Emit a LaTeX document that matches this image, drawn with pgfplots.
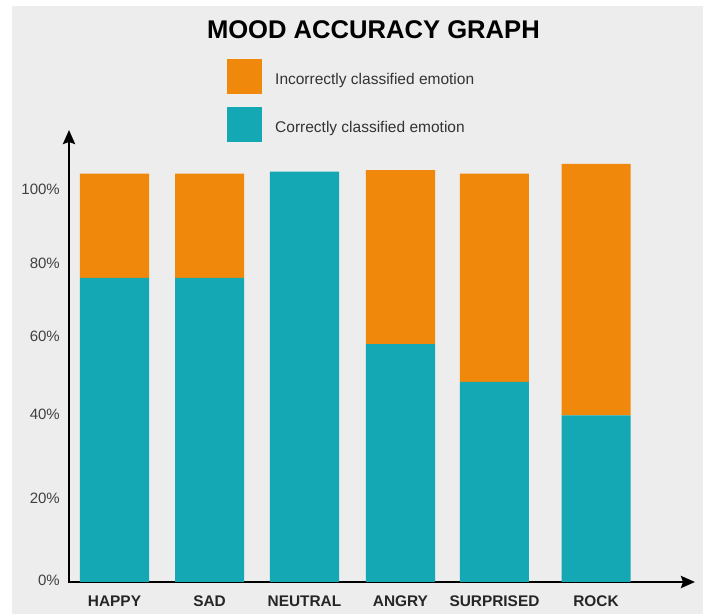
\documentclass[border=0pt]{standalone}
\usepackage{fontspec}
\setmainfont{Liberation Sans}
\usepackage{pgfplots}
\pgfplotsset{compat=1.18}
\usetikzlibrary{arrows.meta}
\definecolor{bgg}{HTML}{EDEDED}
\definecolor{tealc}{HTML}{14A8B4}
\definecolor{orangec}{HTML}{F0890B}

\begin{document}
\begin{tikzpicture}[x=1bp,y=1bp]
\fill[white] (0,0) rectangle (703,614);
\fill[bgg] (12,0) rectangle (703,608);
\begin{axis}[
  at={(69bp,32bp)}, anchor=south west, scale only axis,
  width=626bp, height=452bp,
  xmin=-0.474, xmax=6.047, ymin=0, ymax=115,
  axis lines=left,
  axis line style={draw=none},
  clip=false,
  ybar stacked, bar width=0.719,
  xtick={0,0.99,1.979,2.979,3.958,5.016},
  xticklabels={HAPPY,SAD,NEUTRAL,ANGRY,SURPRISED,ROCK},
  ytick={0.3,21.4,42.7,62.6,81.2,100},
  yticklabels={0\%,20\%,40\%,60\%,80\%,100\%},
  major tick length=0pt,
  tick style={draw=none},
  xticklabel style={font=\fontsize{15.4bp}{18bp}\selectfont\bfseries, text=black!85, inner sep=0pt, anchor=north, yshift=-14bp},
  yticklabel style={font=\fontsize{15bp}{18bp}\selectfont, text=black!75, inner sep=0pt, anchor=east, xshift=-9bp},
]
\addplot[fill=tealc, draw=none] coordinates {(0,77.4) (0.99,77.4) (1.979,104.4) (2.979,60.5) (3.958,50.9) (5.016,42.4)};
\addplot[fill=orangec, draw=none] coordinates {(0,26.5) (0.99,26.5) (1.979,0) (2.979,44.3) (3.958,53.0) (5.016,64.0)};
\draw[line width=2.7bp, line cap=rect, -{Stealth[length=14bp,width=12bp,inset=2bp]}] (rel axis cs:0,0) -- (rel axis cs:1,0);
\draw[line width=2.7bp, line cap=rect, -{Stealth[length=14bp,width=12bp,inset=2bp]}] (rel axis cs:0,0) -- (rel axis cs:0,1);
\end{axis}
\node[font=\fontsize{25.6bp}{30bp}\selectfont\bfseries, anchor=base, inner sep=0pt] at (373.4,575.7) {MOOD ACCURACY GRAPH};
\fill[orangec] (226.7,520) rectangle (262.3,554.7);
\fill[tealc] (226.7,472.3) rectangle (262.3,507.3);
\node[anchor=base west, inner sep=0pt, font=\fontsize{15.5bp}{18bp}\selectfont, text=black!80] at (275,529.7) {Incorrectly classified emotion};
\node[anchor=base west, inner sep=0pt, font=\fontsize{15.5bp}{18bp}\selectfont, text=black!80] at (275,481.3) {Correctly classified emotion};
\pgfresetboundingbox
\path[use as bounding box] (0,0) rectangle (703,614);
\end{tikzpicture}
\end{document}
